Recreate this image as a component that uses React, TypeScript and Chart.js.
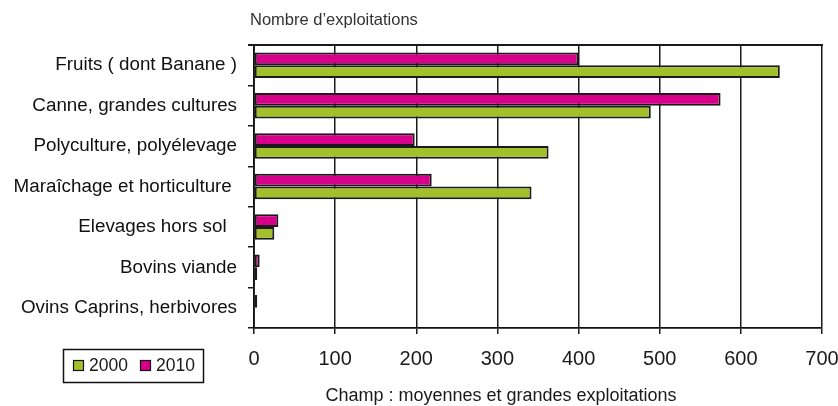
import React, { useEffect, useRef } from "react";
import { Chart, registerables } from "chart.js";

Chart.register(...registerables);

const categories = [
  "Fruits ( dont Banane )",
  "Canne, grandes cultures",
  "Polyculture, polyélevage",
  "Maraîchage et horticulture ",
  "Elevages hors sol  ",
  "Bovins viande",
  "Ovins Caprins, herbivores",
];
const values2010 = [400, 575, 198, 219, 30, 7, 4];
const values2000 = [648, 489, 363, 342, 25, 4, 0];
const xTicks = [0, 100, 200, 300, 400, 500, 600, 700];
const seriesLabels = ["2000", "2010"];
const titleText = "Nombre d\u2019exploitations";
const axisTitleText = "Champ : moyennes et grandes exploitations";

const PINK = "#D8008B";
const GREEN = "#A3C02B";

export default function App() {
  const ref = useRef<HTMLCanvasElement | null>(null);
  useEffect(() => {
    if (!ref.current) return;
    const overlay = {
      id: "overlay",
      afterDraw(chart: any) {
        const ctx = chart.ctx;
        const area = chart.chartArea;
        ctx.save();
        ctx.fillStyle = "#1a1a1a";
        ctx.fillRect(Math.round(area.left) - 6, Math.round(area.top) - 1, Math.round(area.right - area.left) + 7, 2);
        ctx.fillStyle = "#333";
        ctx.textBaseline = "middle";
        ctx.textAlign = "left";
        ctx.font = '16.5px "Liberation Sans", Arial, sans-serif';
        ctx.fillText(titleText, 250, 20);
        ctx.textAlign = "center";
        ctx.font = '18px "Liberation Sans", Arial, sans-serif';
        ctx.fillStyle = "#1a1a1a";
        ctx.fillText(axisTitleText, 501, 396);
        ctx.strokeStyle = "#111";
        ctx.lineWidth = 1.5;
        ctx.strokeRect(63.5, 349.5, 140, 33);
        const colors = [GREEN, PINK];
        const xs = [73, 140];
        ctx.font = '17.5px "Liberation Sans", Arial, sans-serif';
        ctx.textAlign = "left";
        for (let i = 0; i < 2; i++) {
          ctx.fillStyle = colors[i];
          ctx.fillRect(xs[i], 360, 10, 10);
          ctx.lineWidth = 1.2;
          ctx.strokeRect(xs[i] + 0.5, 360.5, 10, 10);
          ctx.fillStyle = "#1a1a1a";
          ctx.fillText(seriesLabels[i], xs[i] + 16, 366);
        }
        ctx.restore();
      },
    };
    const bw = (c: any) => (c.raw === 0 ? 0 : 2);
    const chart = new Chart(ref.current, {
      type: "bar",
      data: {
        labels: categories,
        datasets: [
          {
            label: seriesLabels[1],
            data: values2010,
            backgroundColor: PINK,
            borderColor: "#1a1a1a",
            borderWidth: bw,
            borderSkipped: false,
            categoryPercentage: 0.63,
            barPercentage: 1,
          },
          {
            label: seriesLabels[0],
            data: values2000,
            backgroundColor: GREEN,
            borderColor: "#1a1a1a",
            borderWidth: bw,
            borderSkipped: false,
            categoryPercentage: 0.63,
            barPercentage: 1,
          },
        ],
      },
      options: {
        indexAxis: "y",
        responsive: false,
        animation: false,
        layout: { padding: { top: 45, right: 16, left: 0, bottom: 0 } },
        plugins: {
          legend: { display: false },
          title: { display: false },
          tooltip: { enabled: false },
        },
        scales: {
          x: {
            type: "linear",
            min: 0,
            max: 700,
            afterBuildTicks: (scale: any) => {
              scale.ticks = xTicks.map((v) => ({ value: v }));
            },
            afterFit: (scale: any) => {
              scale.height = 78;
              scale.paddingRight = 0;
              scale.paddingLeft = 0;
            },
            grid: {
              color: "#1a1a1a",
              lineWidth: 1.5,
              tickLength: 6,
              tickColor: "#1a1a1a",
            },
            border: { color: "#111", width: 1.8 },
            ticks: {
              padding: 13,
              color: "#1a1a1a",
              font: { family: '"Liberation Sans", Arial, sans-serif', size: 20 },
            },
          },
          y: {
            afterFit: (scale: any) => {
              scale.width = 254;
            },
            grid: {
              color: "rgba(0,0,0,0)",
              lineWidth: 1.5,
              tickLength: 6,
              tickColor: "#1a1a1a",
            },
            border: { color: "#111", width: 1.8 },
            ticks: {
              padding: 11,
              color: "#111",
              font: { family: '"Liberation Sans", Arial, sans-serif', size: 18.8 },
            },
          },
        },
      },
      plugins: [overlay],
    });
    return () => chart.destroy();
  }, []);
  return (
    <div style={{ position: "absolute", left: 0, top: 0, width: 838, height: 406, background: "#fff" }}>
      <canvas ref={ref} width={838} height={406} style={{ display: "block" }} />
    </div>
  );
}
